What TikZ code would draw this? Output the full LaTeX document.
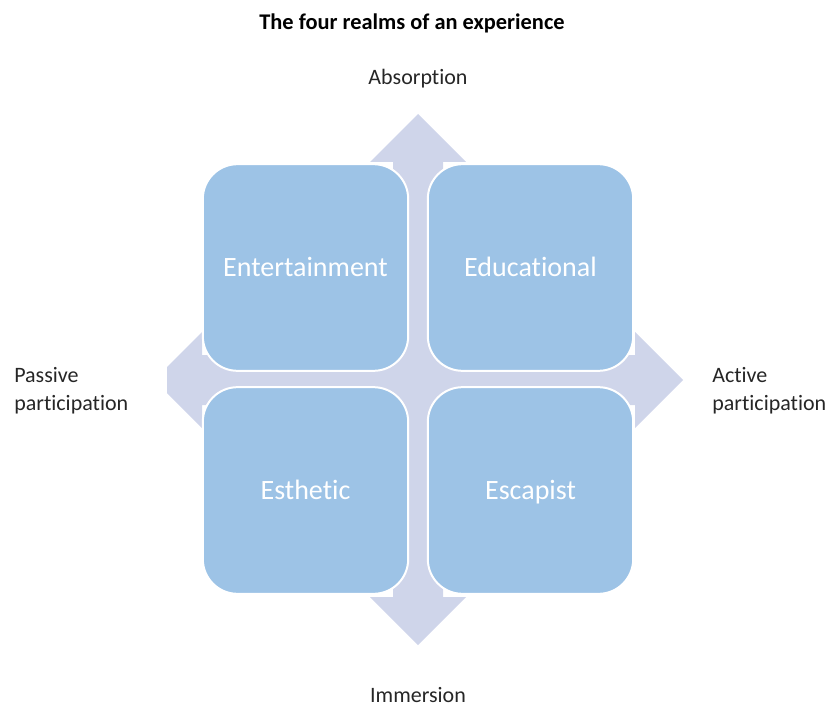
\documentclass[tikz,border=0pt]{standalone}
\usepackage{fontspec}
\setmainfont{Carlito}[Ligatures=NoCommon, Contextuals=NoAlternate]
\definecolor{realmblue}{HTML}{9DC3E6}
\definecolor{axislav}{HTML}{CFD5EA}
\definecolor{labelgray}{HTML}{262626}
\tikzset{
  realm/.style={rectangle, rounded corners=26pt, draw=white, line width=1.5pt,
    fill=realmblue, minimum width=154pt, minimum height=155pt, inner sep=0pt,
    text=white, font=\fontsize{21pt}{25pt}\selectfont, text height=13.5pt, text depth=0pt},
  axis label/.style={text=labelgray, inner sep=0pt, align=left,
    font=\fontsize{16.5pt}{21pt}\selectfont}
}
\begin{document}
\begin{tikzpicture}[x=0.75pt, y=-0.75pt]
  \useasboundingbox (0,0) rectangle (831,706);
  % four-way arrow behind the matrix
  \fill[axislav] (418,114) -- (466,162) -- (443,162) -- (443,355) -- (635,355) -- (635,332)
    -- (683,380) -- (635,428) -- (635,405) -- (443,405) -- (443,597) -- (466,597)
    -- (418,645) -- (370,597) -- (393,597) -- (393,405) -- (202,405) -- (202,428)
    -- (167,393) -- (167,367) -- (202,332) -- (202,355) -- (393,355) -- (393,162)
    -- (370,162) -- cycle;
  % the four realms
  \node[realm] (entertain) at (305.5,267.5) {Entertainment};
  \node[realm] (educate) at (530.5,267.5) {Educational};
  \node[realm] (esthetic) at (305.5,490.5) {Esthetic};
  \node[realm] (escape) at (530.5,490.5) {Escapist};
  % title and axis labels
  \node[anchor=base, inner sep=0pt, font=\fontsize{16.8pt}{20pt}\selectfont\bfseries] (title) at (412,30) {The four realms of an experience};
  \node[axis label, anchor=base] (absorb) at (418,85) {Absorption};
  \node[axis label, anchor=base] (immerse) at (418,702) {Immersion};
  \node[axis label, anchor=base west] (passive) at (14,410) {Passive\\participation};
  \node[axis label, anchor=base west] (active) at (712,410) {Active\\participation};
\end{tikzpicture}
\end{document}
